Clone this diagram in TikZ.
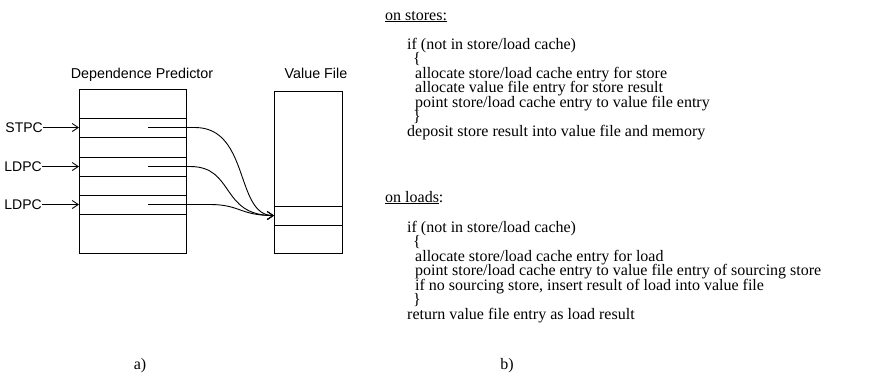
\documentclass[tikz,border=0pt]{standalone}
\usepackage{fontspec}
\setmainfont{Liberation Serif}
\setsansfont{Liberation Sans}
\usetikzlibrary{arrows.meta}
\begin{document}
\begin{tikzpicture}[x=1pt,y=-1pt,
  cell/.style={draw,line width=1pt,rectangle,inner sep=0pt,outer sep=0pt,anchor=north west},
  pc/.style={font=\sffamily\fontsize{14}{14}\selectfont,inner sep=0pt,anchor=east},
  title/.style={font=\sffamily\fontsize{14.3}{14}\selectfont,inner sep=0pt,anchor=base},
  code/.style={font=\fontsize{16}{14.5}\selectfont,inner sep=0pt,anchor=base west},
  captext/.style={font=\fontsize{16}{14.5}\selectfont,inner sep=0pt},
  conn/.style={line width=0.9pt,-{Straight Barb[length=6pt,width=8pt,line width=0.9pt]}}]
\useasboundingbox (0,0) rectangle (871,388);
% Dependence predictor
\node[cell,minimum width=107pt,minimum height=29pt] (dp0) at (79,89) {};
\node[cell,minimum width=107pt,minimum height=19pt] (dp1) at (79,118) {};
\node[cell,minimum width=107pt,minimum height=20pt] (dp2) at (79,137) {};
\node[cell,minimum width=107pt,minimum height=19pt] (dp3) at (79,157) {};
\node[cell,minimum width=107pt,minimum height=19pt] (dp4) at (79,176) {};
\node[cell,minimum width=107pt,minimum height=19pt] (dp5) at (79,195) {};
\node[cell,minimum width=107pt,minimum height=39pt] (dp6) at (79,214) {};
% Value file
\node[cell,minimum width=68pt,minimum height=115pt] (vf0) at (274,91) {};
\node[cell,minimum width=68pt,minimum height=19pt] (vf1) at (274,206) {};
\node[cell,minimum width=68pt,minimum height=28pt] (vf2) at (274,225) {};
% titles
\node[title] (tdp) at (142,78) {Dependence Predictor};
\node[title] (tvf) at (316,78) {Value File};
% PC labels
\node[pc] (stpc) at (43,127.5) {STPC};
\node[pc] (ldpc1) at (42,166.5) {LDPC};
\node[pc] (ldpc2) at (42,204.5) {LDPC};
\draw[conn] (stpc.east) -- (dp1.west);
\draw[conn] (ldpc1.east) -- (dp3.west);
\draw[conn] (ldpc2.east) -- (dp5.west);
% pointers
\coordinate (s1) at (148,127.5);
\coordinate (s2) at (148,166.5);
\coordinate (s3) at (148,204.5);
\draw[conn] (s1) -- (195,127.5) .. controls (250,127.5) and (235,215.5) .. (vf1.west);
\draw[conn] (s2) -- (190,166.5) .. controls (235,166.5) and (220,215.5) .. (vf1.west);
\draw[conn] (s3) -- (210,204.5) .. controls (240,204.5) and (240,215.5) .. (vf1.west);
% code text
\node[code] (h1) at (385,20) {\underline{on stores:}};
\node[code] (a1) at (407,49) {if (not in store/load cache)};
\node[code] (a2) at (413,63.5) {\{};
\node[code] (a3) at (415,78) {allocate store/load cache entry for store};
\node[code] (a4) at (415,92.5) {allocate value file entry for store result};
\node[code] (a5) at (415,107) {point store/load cache entry to value file entry};
\node[code] (a6) at (413,121.5) {\}};
\node[code] (a7) at (407,136) {deposit store result into value file and memory};
\node[code] (h2) at (385,202) {\underline{on loads}:};
\node[code] (b1) at (407,232) {if (not in store/load cache)};
\node[code] (b2) at (413,246.5) {\{};
\node[code] (b3) at (415,261) {allocate store/load cache entry for load};
\node[code] (b4) at (415,275.5) {point store/load cache entry to value file entry of sourcing store};
\node[code] (b5) at (415,290) {if no sourcing store, insert result of load into value file};
\node[code] (b6) at (413,304.5) {\}};
\node[code] (b7) at (407,319) {return value file entry as load result};
% captions
\node[captext] (ca) at (140,366) {a)};
\node[captext] (cb) at (507,366) {b)};
\end{tikzpicture}
\end{document}
